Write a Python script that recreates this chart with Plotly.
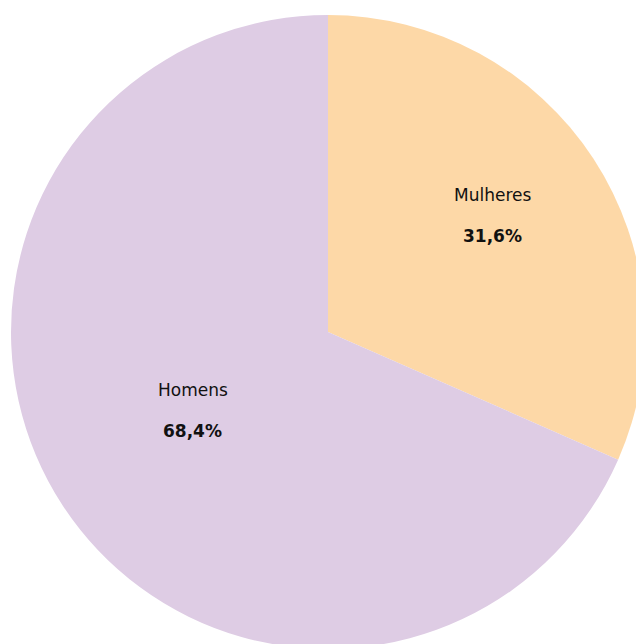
import math
import plotly.graph_objects as go

# slices, clockwise from 12 o'clock
labels = ["Mulheres", "Homens"]
values = [31.6, 68.4]
colors = ["#FDD8A7", "#DECCE4"]

W, H = 656, 660
ML, MT, MR, MB = 11, 15, 11, 11
PW, PH = W - ML - MR, H - MT - MB
CX, CY, R = 328, 332, 317          # pie centre / radius in pixels
text_r = [0.62, 0.51]              # where each slice's label sits (fraction of radius)

fig = go.Figure(go.Pie(
    labels=labels,
    values=values,
    sort=False,
    direction="clockwise",
    rotation=0,
    marker=dict(colors=colors, line=dict(width=0)),
    textinfo="none",
    hoverinfo="label+percent",
    showlegend=False,
))


def to_paper(px_, py_):
    return (px_ - ML) / PW, 1 - (py_ - MT) / PH


# labels placed at the middle angle of each slice
total = sum(values)
start = 0.0
for lab, val, rr in zip(labels, values, text_r):
    mid = (start + val / 2) / total * 2 * math.pi
    start += val
    px_ = CX + rr * R * math.sin(mid)
    py_ = CY - rr * R * math.cos(mid)
    pct = f"{val:.1f}%".replace(".", ",")
    x1, y1 = to_paper(px_, py_ - 30)
    x2, y2 = to_paper(px_, py_ + 11)
    fig.add_annotation(x=x1, y=y1, xref="paper", yref="paper",
                       text=lab, showarrow=False, xanchor="center", yanchor="middle",
                       font=dict(family="DejaVu Sans, sans-serif", size=17, color="#111111"))
    fig.add_annotation(x=x2, y=y2, xref="paper", yref="paper",
                       text=f"<b>{pct}</b>", showarrow=False, xanchor="center", yanchor="middle",
                       font=dict(family="DejaVu Sans, sans-serif", size=17, color="#111111"))

fig.update_layout(
    width=W,
    height=H,
    margin=dict(l=ML, r=MR, t=MT, b=MB),
    paper_bgcolor="white",
)

# the pie spills past the window on the right and bottom, like the original
post = (
    "document.body.style.margin='0';"
    "document.body.style.overflow='hidden';"
    "document.documentElement.style.overflow='hidden';"
)
fig.write_html("out.html", post_script=post, config={"displayModeBar": False})
